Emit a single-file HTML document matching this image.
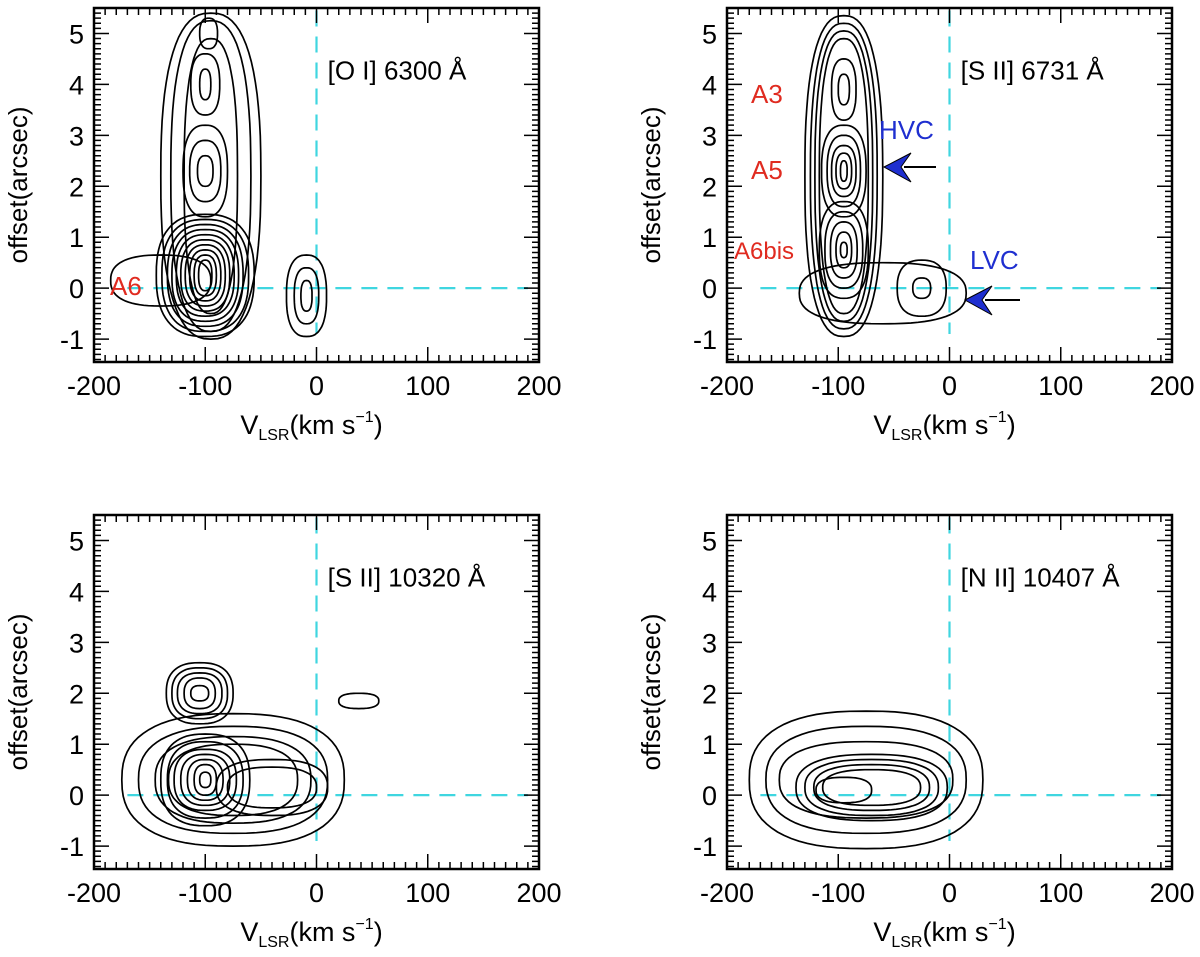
<!DOCTYPE html>
<html><head><meta charset="utf-8"><style>
html,body{margin:0;padding:0;background:#fff;}
svg{display:block;font-family:"Liberation Sans",sans-serif;}
</style></head><body>
<svg id="fig" width="1200" height="957" viewBox="0 0 1200 957"></svg>
<script>
// Data: contour groups per panel (center v, center offset, x-radii, y-radii)
const panelTitles = ["[O I] 6300 Å", "[S II] 6731 Å", "[S II] 10320 Å", "[N II] 10407 Å"];
const xTicks = [-200, -100, 0, 100, 200];
const yTicks = [-1, 0, 1, 2, 3, 4, 5];
const p1Groups = [
  [-95, 2.2, [45, 36, 24], [3.2, 3.05, 2.7]],
  [-140, 0.15, [45], [0.5]],
  [-100, 0.25, [44, 39, 34, 30, 26, 22, 18, 14, 10, 6], [1.2, 1.1, 1.0, 0.9, 0.8, 0.7, 0.6, 0.5, 0.4, 0.3]],
  [-100, 2.3, [20, 14, 7], [0.9, 0.6, 0.3]],
  [-100, 4.0, [13, 5], [0.6, 0.3]],
  [-97, 5.0, [8], [0.3]],
  [-9, -0.15, [18, 11, 5], [0.8, 0.55, 0.3]]
];
const p2Groups = [
  [-95, 2.2, [35, 30, 26, 22], [3.15, 3.0, 2.85, 2.7]],
  [-60, -0.1, [75], [0.6]],
  [-95, 3.9, [11, 5], [0.6, 0.3]],
  [-95, 2.3, [20, 15, 11, 7, 3], [0.9, 0.7, 0.5, 0.35, 0.2]],
  [-95, 0.75, [22, 17, 12, 7, 3], [0.95, 0.75, 0.55, 0.35, 0.15]],
  [-25, 0.0, [22, 8], [0.55, 0.2]]
];
const p3Groups = [
  [-105, 2.0, [30, 25, 20, 14, 8], [0.6, 0.5, 0.4, 0.3, 0.15]],
  [-75, 0.3, [100, 85, 70, 58], [1.3, 1.05, 0.85, 0.7]],
  [-100, 0.3, [40, 34, 28, 22, 16, 10, 5], [0.9, 0.75, 0.6, 0.5, 0.4, 0.3, 0.15]],
  [-40, 0.15, [50, 40], [0.55, 0.4]],
  [38, 1.85, [18], [0.15]]
];
const p4Groups = [
  [-75, 0.3, [105, 90, 78], [1.35, 1.05, 0.75]],
  [-70, 0.15, [68, 60, 52, 44], [0.65, 0.55, 0.45, 0.35]],
  [-95, 0.1, [25], [0.25]]
];
const panelGroups = [p1Groups, p2Groups, p3Groups, p4Groups];

const NS = "http://www.w3.org/2000/svg";
const svg = document.getElementById("fig");
function mk(tag, attrs, parent) {
  const e = document.createElementNS(NS, tag);
  for (const k in attrs) e.setAttribute(k, attrs[k]);
  (parent || svg).appendChild(e);
  return e;
}
function superEllipse(cx, cy, rx, ry) {
  const n = 2.5; let d = "";
  for (let k = 0; k <= 72; k++) {
    const a = k / 72 * 2 * Math.PI, c = Math.cos(a), s = Math.sin(a);
    const x = cx + rx * Math.sign(c) * Math.pow(Math.abs(c), 2 / n);
    const y = cy + ry * Math.sign(s) * Math.pow(Math.abs(s), 2 / n);
    d += (k ? "L" : "M") + x.toFixed(1) + "," + y.toFixed(1);
  }
  return d + "Z";
}
const panels = [{l:94,t:8},{l:727,t:8},{l:94,t:515},{l:727,t:515}];
const W = 445, H = 354, XMIN = -200, XMAX = 200, YMIN = -1.45, YMAX = 5.5;

panels.forEach((p, i) => {
  const g = mk("g", {});
  
  
  const xs = v => p.l + (v - XMIN) / (XMAX - XMIN) * W;
  const ys = y => p.t + H - (y - YMIN) / (YMAX - YMIN) * H;
  const vl = mk("line", {x1: xs(0), x2: xs(0), y1: ys(5.45), y2: ys(-0.9), stroke: "#3fd6e0", "stroke-width": 2.2, "stroke-dasharray": "16 10"}, g);
  
  
  const hl = mk("line", {x1: xs(-170), x2: xs(190), y1: ys(0), y2: ys(0), stroke: "#3fd6e0", "stroke-width": 2.2, "stroke-dasharray": "16 10"}, g);
  
  
  panelGroups[i].forEach(gr => {
    const [cv, cy, rxs, rys] = gr;
    rxs.forEach((rx, k) => {
      const e = mk("path", {d: superEllipse(xs(cv), ys(cy), rx / (XMAX - XMIN) * W, rys[k] / (YMAX - YMIN) * H), fill: "none", stroke: "#000", "stroke-width": 1.7}, g);
      
      
    });
  });
  const fr = mk("rect", {x: p.l, y: p.t, width: W, height: H, fill: "none", stroke: "#000", "stroke-width": 2.5}, g);
  
  
  let d = "";
  for (let v = -200; v <= 200; v += 10) {
    const L = v % 100 === 0 ? 15 : 7, x = xs(v);
    d += `M${x},${p.t + H}v${-L}M${x},${p.t}v${L}`;
  }
  for (let k = -14; k <= 54; k++) {
    const y = ys(k / 10), L = k % 10 === 0 ? 15 : 7;
    d += `M${p.l},${y}h${L}M${p.l + W},${y}h${-L}`;
  }
  const tk = mk("path", {d: d, stroke: "#000", "stroke-width": 1.5, fill: "none"}, g);
  
  
  xTicks.forEach(v => {
    const t = mk("text", {x: xs(v), y: p.t + H + 33, "text-anchor": "middle", "font-size": 27}, g);
    t.textContent = v;
    
    
  });
  yTicks.forEach(v => {
    const t = mk("text", {x: p.l - 10, y: ys(v) + 10, "text-anchor": "end", "font-size": 27}, g);
    t.textContent = v;
    
    
  });
  const yl = mk("text", {x: 0, y: 0, "text-anchor": "middle", "font-size": 26, transform: `translate(${p.l - 67},${p.t + H / 2}) rotate(-90)`}, g);
  yl.textContent = "offset(arcsec)";
  
  
  const xl = mk("text", {x: p.l + W / 2 - 5, y: p.t + H + 72, "text-anchor": "middle", "font-size": 27}, g);
  xl.innerHTML = 'V<tspan font-size="16" dy="6">LSR</tspan><tspan dy="-6">(km s</tspan><tspan font-size="16" dy="-12">−1</tspan><tspan dy="12">)</tspan>';
  
  
  const tt = mk("text", {x: xs(10), y: ys(4.1), "font-size": 26}, g);
  tt.textContent = panelTitles[i];
  
  
});

function label(txt, x, y, col, size, name) {
  const t = mk("text", {x: x, y: y, fill: col, "font-size": size});
  t.textContent = txt;
  
  
}
label("A6", 110, 295, "#e02b20", 26, "knot-label-a6");
label("A3", 751, 103, "#e02b20", 26, "knot-label-a3");
label("A5", 751, 179, "#e02b20", 26, "knot-label-a5");
label("A6bis", 734, 259, "#e02b20", 24, "knot-label-a6bis");
label("HVC", 879, 139, "#1f2fd0", 26, "hvc-label");
label("LVC", 970, 269, "#1f2fd0", 26, "lvc-label");
[[884, 167, 936], [965, 300, 1020]].forEach((a, k) => {
  const g = mk("g", {});
  
  
  mk("line", {x1: a[0] + 20, y1: a[1], x2: a[2], y2: a[1], stroke: "#000", "stroke-width": 2}, g);
  mk("path", {d: `M${a[0]},${a[1]} L${a[0] + 27},${a[1] - 14} L${a[0] + 17},${a[1]} L${a[0] + 27},${a[1] + 15} Z`, fill: "#1f2fd0", stroke: "#000", "stroke-width": 1}, g);
});
</script>
</body></html>
